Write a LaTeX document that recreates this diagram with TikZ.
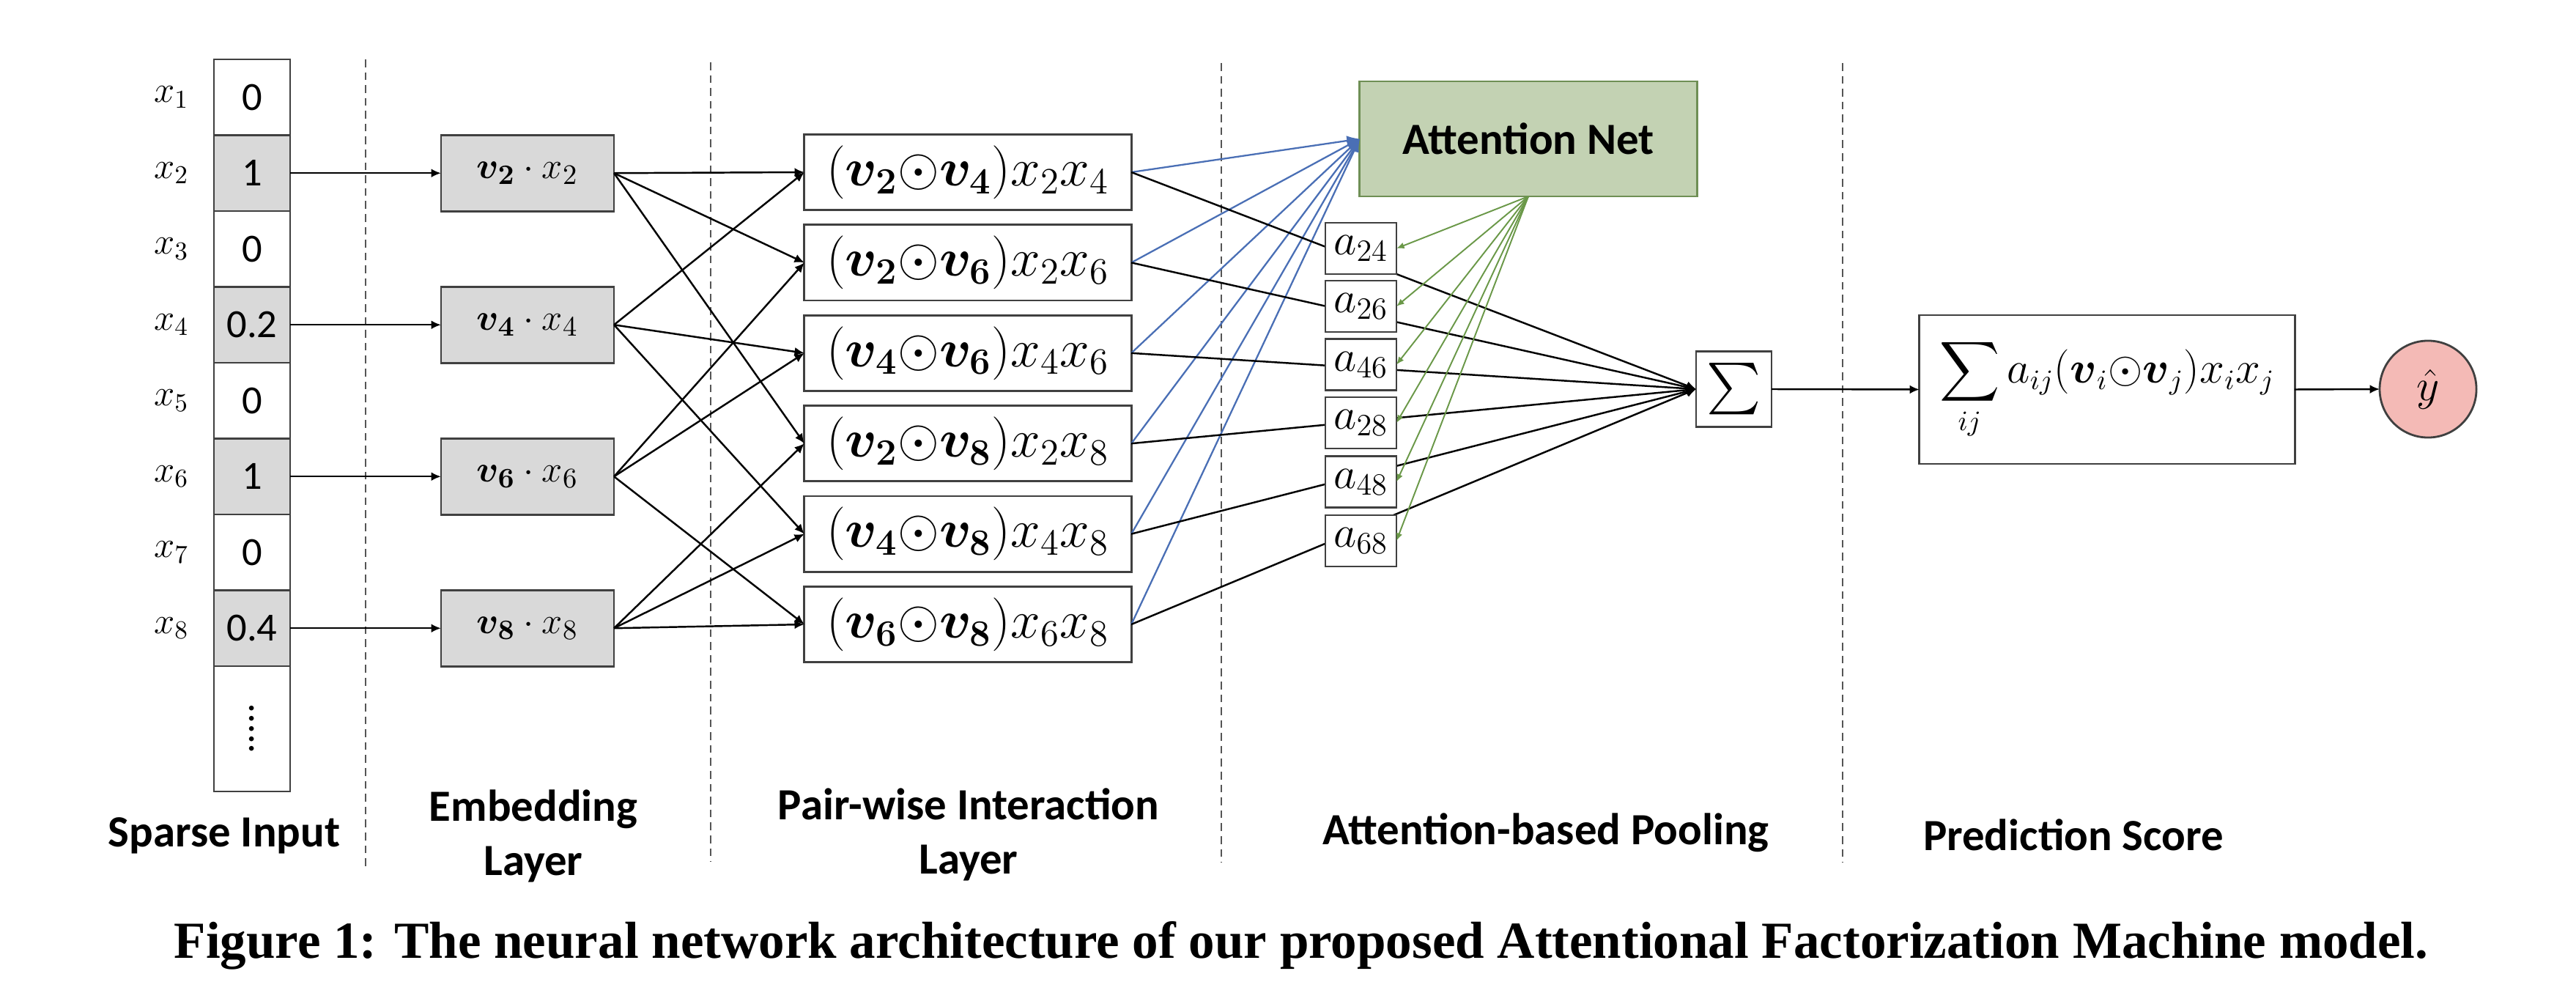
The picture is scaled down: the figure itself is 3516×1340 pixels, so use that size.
\documentclass[tikz,border=0pt]{standalone}
\usepackage{amsmath,amssymb}
\usepackage{fontspec}
\setmainfont{Carlito}
\newfontfamily\capfont{Liberation Serif}
\usetikzlibrary{arrows.meta}
\definecolor{boxc}{HTML}{404040}
\definecolor{cellgray}{HTML}{D9D9D9}
\definecolor{attfill}{HTML}{C3D2B3}
\definecolor{attdraw}{HTML}{6F8F55}
\definecolor{pinkf}{HTML}{F4BAB6}
\definecolor{blueln}{HTML}{4A6FB5}
\definecolor{greenln}{HTML}{6A9848}
\definecolor{sepc}{HTML}{555555}
\tikzset{
  cellbox/.style={draw=boxc, line width=0.8pt, minimum width=1.04cm, minimum height=1.035cm, inner sep=0pt, outer sep=0pt, font=\fontsize{15.5}{18}\selectfont},
  grayc/.style={fill=cellgray},
  xlab/.style={inner sep=0pt, font=\fontsize{14.5}{17}\selectfont},
  embbox/.style={draw=boxc, fill=cellgray, line width=0.8pt, minimum width=2.36cm, minimum height=1.04cm, inner sep=0pt, outer sep=0pt, font=\fontsize{15.5}{18}\selectfont},
  pairbox/.style={draw=boxc, fill=white, line width=0.8pt, minimum width=4.46cm, minimum height=1.03cm, inner sep=0pt, outer sep=0pt, font=\fontsize{19.5}{22}\selectfont},
  abox/.style={draw=boxc, fill=white, line width=0.8pt, minimum width=0.97cm, minimum height=0.70cm, inner sep=0pt, outer sep=0pt, font=\fontsize{17.5}{20}\selectfont},
  attbox/.style={draw=attdraw, fill=attfill, line width=0.8pt, minimum width=4.6cm, minimum height=1.57cm, inner sep=0pt, outer sep=0pt, font=\fontsize{17.3}{20}\selectfont\bfseries},
  sumbox/.style={draw=boxc, fill=white, line width=0.8pt, minimum width=1.03cm, minimum height=1.035cm, inner sep=0pt, outer sep=0pt, font=\fontsize{20}{24}\selectfont},
  formbox/.style={draw=boxc, fill=white, line width=0.8pt, minimum width=5.12cm, minimum height=2.03cm, inner sep=0pt, outer sep=0pt, font=\fontsize{16.2}{19}\selectfont},
  ycirc/.style={circle, draw=boxc, fill=pinkf, line width=0.8pt, minimum size=1.32cm, inner sep=0pt, outer sep=0pt, font=\fontsize{18}{21}\selectfont},
  lab/.style={align=center, inner sep=0pt, font=\fontsize{17.3}{21}\selectfont\bfseries},
  sepline/.style={draw=sepc, line width=0.45pt, dash pattern=on 3pt off 2pt},
  arr/.style={draw=black, line width=0.7pt, -{Latex[length=3.8pt,width=3.4pt]}},
  bluearr/.style={draw=blueln, line width=0.65pt, -{Latex[length=5pt,width=4pt]}},
  greenarr/.style={draw=greenln, line width=0.55pt, -{Latex[length=3pt,width=2.5pt]}},
}
\begin{document}
\begin{tikzpicture}[x=0.01cm,y=-0.01cm]
\useasboundingbox (0,0) rectangle (3516,1340);
% separators
\draw[sepline] (499,81) -- (499,1182);
\draw[sepline] (970,85) -- (970,1176);
\draw[sepline] (1667,86) -- (1667,1177);
\draw[sepline] (2515,86) -- (2515,1177);
% sparse input column
\node[cellbox] (c1) at (344,132.75) {0};
\node[cellbox,grayc] (c2) at (344,236.25) {1};
\node[cellbox] (c3) at (344,339.75) {0};
\node[cellbox,grayc] (c4) at (344,443.25) {0.2};
\node[cellbox] (c5) at (344,546.75) {0};
\node[cellbox,grayc] (c6) at (344,650.25) {1};
\node[cellbox] (c7) at (344,753.75) {0};
\node[cellbox,grayc] (c8) at (344,857.25) {0.4};
\node[cellbox, minimum height=1.71cm] (c9) at (344,994.5) {\rotatebox{90}{.....}};
\node[xlab] (x1) at (234,132.75) {$x_1$};
\node[xlab] (x2) at (234,236.25) {$x_2$};
\node[xlab] (x3) at (234,339.75) {$x_3$};
\node[xlab] (x4) at (234,443.25) {$x_4$};
\node[xlab] (x5) at (234,546.75) {$x_5$};
\node[xlab] (x6) at (234,650.25) {$x_6$};
\node[xlab] (x7) at (234,753.75) {$x_7$};
\node[xlab] (x8) at (234,857.25) {$x_8$};
% embedding
\node[embbox] (e2) at (720,236.25) {$\boldsymbol{v_2}\cdot x_2$};
\node[embbox] (e4) at (720,443.25) {$\boldsymbol{v_4}\cdot x_4$};
\node[embbox] (e6) at (720,650.25) {$\boldsymbol{v_6}\cdot x_6$};
\node[embbox] (e8) at (720,857.25) {$\boldsymbol{v_8}\cdot x_8$};
% pair-wise
\node[pairbox] (p24) at (1321,235) {$(\boldsymbol{v_2}{\odot}\boldsymbol{v_4})x_2x_4$};
\node[pairbox] (p26) at (1321,358.4) {$(\boldsymbol{v_2}{\odot}\boldsymbol{v_6})x_2x_6$};
\node[pairbox] (p46) at (1321,481.8) {$(\boldsymbol{v_4}{\odot}\boldsymbol{v_6})x_4x_6$};
\node[pairbox] (p28) at (1321,605.2) {$(\boldsymbol{v_2}{\odot}\boldsymbol{v_8})x_2x_8$};
\node[pairbox] (p48) at (1321,728.6) {$(\boldsymbol{v_4}{\odot}\boldsymbol{v_8})x_4x_8$};
\node[pairbox] (p68) at (1321,852) {$(\boldsymbol{v_6}{\odot}\boldsymbol{v_8})x_6x_8$};
% attention, sum, formula, output
\node[attbox] (att) at (2086,189.5) {Attention Net};
\node[sumbox] (sum) at (2366.5,531) {$\sum$};
\node[formbox] (form) at (2876,531.5) {$\displaystyle\sum_{ij} a_{ij}(\boldsymbol{v}_i{\odot}\boldsymbol{v}_j)x_ix_j$};
\node[ycirc] (yh) at (3314,531) {$\hat{y}$};
% input -> embedding
\draw[arr] (c2.east) -- (e2.west);
\draw[arr] (c4.east) -- (e4.west);
\draw[arr] (c6.east) -- (e6.west);
\draw[arr] (c8.east) -- (e8.west);
% embedding -> pair
\foreach \e/\p in {e2/p24,e2/p26,e2/p28,e4/p24,e4/p46,e4/p48,e6/p26,e6/p46,e6/p68,e8/p28,e8/p48,e8/p68}
  \draw[arr] (\e.east) -- (\p.west);
% pair -> attention
\foreach \p in {p24,p26,p46,p28,p48,p68}
  \draw[bluearr] (\p.east) -- (att.west);
% pair -> sum
\foreach \p in {p24,p26,p46,p28,p48,p68}
  \draw[arr] (\p.east) -- (sum.west);
% attention weights
\node[abox] (a24) at (1857.5,339) {$a_{24}$};
\node[abox] (a26) at (1857.5,418) {$a_{26}$};
\node[abox] (a46) at (1857.5,497.5) {$a_{46}$};
\node[abox] (a28) at (1857.5,577) {$a_{28}$};
\node[abox] (a48) at (1857.5,657.5) {$a_{48}$};
\node[abox] (a68) at (1857.5,738) {$a_{68}$};
\foreach \a in {a24,a26,a46,a28,a48,a68}
  \draw[greenarr] (att.south) -- (\a.east);
% output chain
\draw[arr] (sum.east) -- (form.west);
\draw[arr] (form.east) -- (yh.west);
% labels
\node[lab] (l1) at (306,1140) {Sparse Input};
\node[lab] (l2) at (728,1141) {Embedding\\Layer};
\node[lab] (l3) at (1322,1139) {Pair-wise Interaction\\Layer};
\node[lab] (l4) at (2110,1136) {Attention-based Pooling};
\node[lab] (l5) at (2830,1139) {Prediction Score};
\node[inner sep=0pt, font=\capfont\bfseries\fontsize{20.2}{24}\selectfont] (cap) at (1776,1290) {Figure 1: The neural network architecture of our proposed Attentional Factorization Machine model.};
\end{tikzpicture}
\end{document}
